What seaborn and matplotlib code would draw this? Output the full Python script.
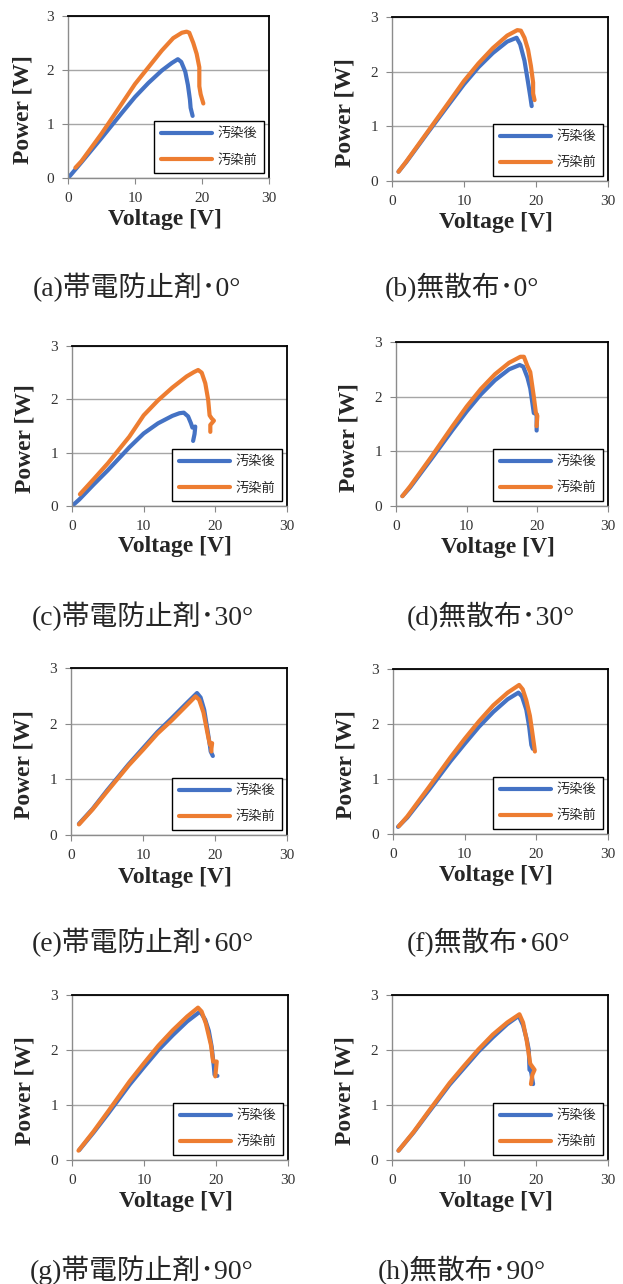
#%% P-V曲線 (汚染前後) 8パネル
import pandas as pd
import seaborn as sns
import matplotlib
matplotlib.use('Agg')
import matplotlib.pyplot as plt

#%% データ  V [V], P [W]

# (a) 帯電防止剤・0°
a_after_v = [0.0, 0.5, 2, 5, 8, 10, 12, 14, 15.5, 16.4, 16.9, 17.5, 17.9, 18.2, 18.3, 18.6]
a_after_p = [0.0, 0.07, 0.29, 0.74, 1.2, 1.5, 1.76, 1.99, 2.13, 2.2, 2.15, 1.97, 1.72, 1.45, 1.3, 1.15]
a_before_v = [1.1, 2, 5, 8, 10, 12, 14, 15.7, 17.0, 17.7, 18.1, 18.7, 19.2, 19.6, 19.6, 19.8, 20.2]
a_before_p = [0.19, 0.31, 0.82, 1.37, 1.74, 2.05, 2.36, 2.59, 2.69, 2.71, 2.69, 2.5, 2.3, 2.05, 1.7, 1.55, 1.38]

# (b) 無散布・0°
b_after_v = [0.9, 2, 5, 8, 10, 12, 14, 16, 17.3, 17.8, 18.4, 18.9, 19.2, 19.4]
b_after_p = [0.17, 0.35, 0.89, 1.42, 1.77, 2.08, 2.34, 2.55, 2.62, 2.5, 2.2, 1.8, 1.55, 1.37]
b_before_v = [0.9, 2, 5, 8, 10, 12, 14, 16, 17.4, 17.9, 18.4, 18.9, 19.3, 19.6, 19.6, 19.8]
b_before_p = [0.17, 0.36, 0.91, 1.46, 1.83, 2.15, 2.43, 2.66, 2.76, 2.75, 2.62, 2.4, 2.1, 1.8, 1.6, 1.48]

# (c) 帯電防止剤・30°
c_after_v = [0.0, 1, 3, 5, 8, 10, 12, 14, 15.0, 15.6, 16.2, 16.6, 16.8, 17.2, 17.1, 16.9]
c_after_p = [0.0, 0.12, 0.4, 0.67, 1.1, 1.36, 1.55, 1.69, 1.74, 1.75, 1.68, 1.55, 1.47, 1.49, 1.35, 1.22]
c_before_v = [1.1, 3, 5, 8, 10, 12, 14, 16, 17.0, 17.6, 18.1, 18.6, 19.0, 19.2, 19.5, 19.8, 19.3, 19.3]
c_before_p = [0.22, 0.5, 0.8, 1.3, 1.7, 1.98, 2.22, 2.43, 2.51, 2.55, 2.5, 2.3, 1.99, 1.7, 1.64, 1.6, 1.52, 1.39]

# (d) 無散布・30°
d_after_v = [0.9, 2, 5, 8, 10, 12, 14, 16, 17.5, 18.0, 18.6, 19.0, 19.5, 19.9, 19.9]
d_after_p = [0.18, 0.34, 0.86, 1.39, 1.73, 2.04, 2.3, 2.5, 2.58, 2.55, 2.35, 2.15, 1.7, 1.68, 1.38]
d_before_v = [0.9, 2, 5, 8, 10, 12, 14, 16, 17.6, 18.1, 18.6, 19.0, 19.5, 19.8, 20.0, 19.9]
d_before_p = [0.18, 0.36, 0.9, 1.46, 1.82, 2.14, 2.41, 2.62, 2.73, 2.73, 2.56, 2.45, 2.0, 1.7, 1.65, 1.46]

# (e) 帯電防止剤・60°
e_after_v = [1.1, 3, 5, 8, 10, 12, 14, 16, 17.5, 18.0, 18.5, 19.0, 19.3, 19.4, 19.7]
e_after_p = [0.2, 0.47, 0.8, 1.27, 1.56, 1.85, 2.1, 2.36, 2.55, 2.47, 2.25, 1.85, 1.6, 1.5, 1.42]
e_before_v = [1.1, 3, 5, 8, 10, 12, 14, 16, 17.3, 17.8, 18.4, 19.0, 19.3, 19.6, 19.5, 19.5]
e_before_p = [0.19, 0.46, 0.78, 1.25, 1.53, 1.82, 2.06, 2.32, 2.49, 2.43, 2.2, 1.8, 1.62, 1.65, 1.55, 1.5]

# (f) 無散布・60°
f_after_v = [0.7, 2, 5, 8, 10, 12, 14, 16, 17.5, 18.0, 18.6, 19.0, 19.3, 19.5]
f_after_p = [0.13, 0.3, 0.8, 1.32, 1.64, 1.95, 2.22, 2.45, 2.57, 2.5, 2.26, 1.95, 1.62, 1.55]
f_before_v = [0.8, 2, 5, 8, 10, 12, 14, 16, 17.6, 18.1, 18.6, 19.1, 19.4, 19.7, 19.8]
f_before_p = [0.14, 0.32, 0.85, 1.39, 1.73, 2.05, 2.34, 2.57, 2.71, 2.63, 2.43, 2.15, 1.88, 1.6, 1.5]

# (g) 帯電防止剤・90°
g_after_v = [1.0, 3, 5, 8, 10, 12, 14, 16, 17.8, 18.5, 19.0, 19.4, 19.7, 19.8, 20.2]
g_after_p = [0.18, 0.5, 0.84, 1.37, 1.69, 2.0, 2.27, 2.52, 2.7, 2.55, 2.35, 2.06, 1.7, 1.55, 1.53]
g_before_v = [0.9, 3, 5, 8, 10, 12, 14, 16, 17.5, 18.0, 18.6, 19.3, 19.6, 20.1, 19.9]
g_before_p = [0.17, 0.52, 0.88, 1.43, 1.76, 2.08, 2.36, 2.61, 2.77, 2.7, 2.48, 2.09, 1.79, 1.79, 1.52]

# (h) 無散布・90°
h_after_v = [0.9, 3, 5, 8, 10, 12, 14, 16, 17.6, 18.2, 18.7, 19.0, 19.1, 19.3, 19.6]
h_after_p = [0.17, 0.5, 0.85, 1.37, 1.67, 1.97, 2.23, 2.47, 2.62, 2.45, 2.2, 2.0, 1.64, 1.62, 1.38]
h_before_v = [0.9, 3, 5, 8, 10, 12, 14, 16, 17.7, 18.2, 18.7, 19.2, 19.8, 19.5, 19.3]
h_before_p = [0.17, 0.51, 0.87, 1.4, 1.71, 2.01, 2.28, 2.5, 2.65, 2.5, 2.18, 1.75, 1.64, 1.55, 1.38]

series_names = ['汚染後', '汚染前']
captions = ['(a)帯電防止剤･0°', '(b)無散布･0°', '(c)帯電防止剤･30°', '(d)無散布･30°',
            '(e)帯電防止剤･60°', '(f)無散布･60°', '(g)帯電防止剤･90°', '(h)無散布･90°']
x_ticks = [0, 10, 20, 30]
y_ticks = [0, 1, 2, 3]

#%% データフレームにまとめる
curves = {
    'a': (a_after_v, a_after_p, a_before_v, a_before_p),
    'b': (b_after_v, b_after_p, b_before_v, b_before_p),
    'c': (c_after_v, c_after_p, c_before_v, c_before_p),
    'd': (d_after_v, d_after_p, d_before_v, d_before_p),
    'e': (e_after_v, e_after_p, e_before_v, e_before_p),
    'f': (f_after_v, f_after_p, f_before_v, f_before_p),
    'g': (g_after_v, g_after_p, g_before_v, g_before_p),
    'h': (h_after_v, h_after_p, h_before_v, h_before_p),
}
rows = []
for key, (av, ap, bv, bp) in curves.items():
    for v, p in zip(av, ap):
        rows.append((key, series_names[0], v, p))
    for v, p in zip(bv, bp):
        rows.append((key, series_names[1], v, p))
df = pd.DataFrame(rows, columns=['panel', 'series', 'V', 'P'])

#%% グラフ
sns.set_style('white')
plt.rcParams['font.family'] = ['Liberation Serif', 'Noto Sans CJK JP', 'DejaVu Sans']

W, H = 623, 1284
fig = plt.figure(figsize=(W / 100, H / 100), dpi=100)

# 各パネルの位置 (ピクセル: 左, 右, 上, 下) とキャプション位置
boxes = [(68, 269, 16, 178), (392, 608, 17, 181),
         (72, 287, 346, 506), (396, 608, 342, 506),
         (71, 287, 668, 835), (393, 608, 669, 834),
         (72, 288, 995, 1160), (392, 608, 995, 1160)]
cap_pos = [(33, 287), (385, 287), (32, 616), (407, 616),
           (32, 942), (407, 942), (30, 1270), (378, 1270)]

blue = '#4472C4'
orange = '#ED7D31'

for i, key in enumerate('abcdefgh'):
    l, r, t, b = boxes[i]
    ax = fig.add_axes([l / W, 1 - b / H, (r - l) / W, (b - t) / H])
    sub = df[df['panel'] == key]
    sns.lineplot(data=sub, x='V', y='P', hue='series', hue_order=series_names,
                 palette=[blue, orange], sort=False, estimator=None, lw=3,
                 solid_capstyle='round', solid_joinstyle='round', legend=False, ax=ax)

    ax.set_xlim(0, 30)
    ax.set_ylim(0, 3)
    ax.set_xticks(x_ticks)
    ax.set_yticks(y_ticks)
    ax.yaxis.grid(True, color='#a6a6a6', lw=1)
    ax.xaxis.grid(False)
    ax.set_axisbelow(True)
    ax.tick_params(direction='out', length=4, width=0.8, color='#888888',
                   labelsize=11, labelcolor='#333333', pad=6,
                   bottom=True, left=True)
    for s in ['left', 'bottom']:
        ax.spines[s].set_color('#8c8c8c')
        ax.spines[s].set_linewidth(1)
    for s in ['top', 'right']:
        ax.spines[s].set_color('black')
        ax.spines[s].set_linewidth(1.3)

    ax.set_xlabel('Voltage [V]', fontsize=17, fontweight='bold', family='Liberation Serif')
    ax.set_ylabel('Power [W]', fontsize=17, fontweight='bold', family='Liberation Serif')
    ax.xaxis.set_label_coords(0.48, -0.19)
    ax.yaxis.set_label_coords(-0.17, 0.42)

    leg = ax.legend(handles=ax.lines[:2], labels=series_names, loc='lower right',
                    bbox_to_anchor=(0.975, 0.03), borderaxespad=0, frameon=True,
                    fancybox=False, edgecolor='black', framealpha=1,
                    handlelength=3.9, handletextpad=0.4, labelspacing=1.0,
                    borderpad=0.5, prop={'family': 'Noto Sans CJK JP', 'size': 9.5})
    leg.get_frame().set_linewidth(1)

    cx, cy = cap_pos[i]
    fig.text(cx / W, 1 - cy / H, captions[i], fontsize=20, va='center', ha='left',
             family=['Liberation Serif', 'Noto Sans CJK JP'])

fig.savefig('out.png', dpi=100, facecolor='white')
